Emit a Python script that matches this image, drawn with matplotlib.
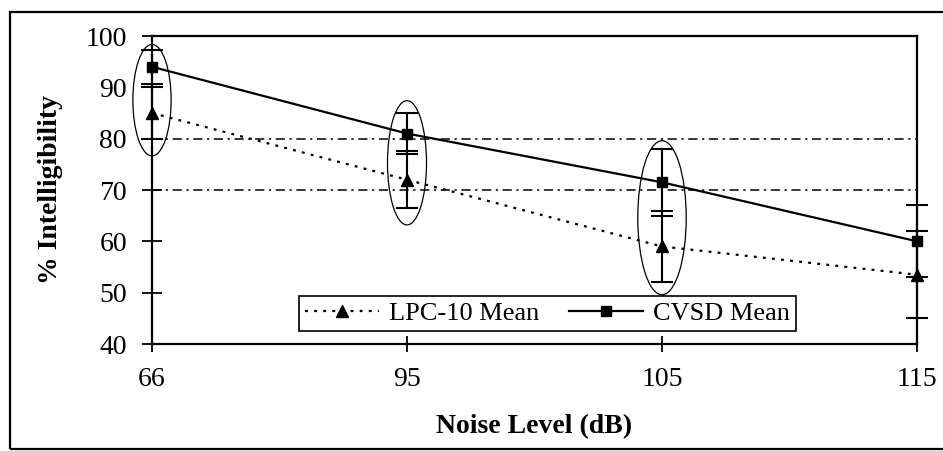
#!/bin/python

import numpy as np
import matplotlib.pyplot as plt
from matplotlib.patches import Ellipse, Rectangle

plt.rcParams['font.family'] = ['Liberation Serif', 'DejaVu Serif']

# Intelligibility scores per noise level (mean and +/- spread)
noise_levels = ['66', '95', '105', '115']
lpc_mean = [85, 72, 59, 53.5]
lpc_err = [5, 5.5, 7, 8.5]
cvsd_mean = [94, 81, 71.5, 60]
cvsd_err = [3.3, 4, 6.5, 7]

# Reference lines across the plot
reference_levels = [80, 70]

# Circled groups: (category index, centre value, width, height)
circled = [(0, 87.5, 0.15, 21.7), (1, 75.3, 0.153, 24.2), (2, 64.6, 0.19, 30)]


# Plot one mean series with its error bars
def plotSeries(ax, x, mean, err, marker, ms, ls, label):
	ax.errorbar(x, mean, yerr=err, fmt='none', ecolor='black', elinewidth=1.5,
		capsize=8, capthick=1.5, clip_on=False, zorder=3)
	line, = ax.plot(x, mean, color='black', linestyle=ls, linewidth=1.6,
		marker=marker, markersize=ms, clip_on=False, zorder=4, label=label)
	return line


fig = plt.figure(figsize=(9.43, 4.51), dpi=100)
ax = fig.add_axes([152/943, 1-344/451, 765/943, 308/451])

x = np.arange(len(noise_levels))

for level in reference_levels:
	ax.plot([x[0], x[-1]], [level, level], color='black', linewidth=1.1,
		linestyle=(0, (6, 3, 1.5, 3)), zorder=2)

plotSeries(ax, x, lpc_mean, lpc_err, '^', 8, (0, (1.3, 2.8)), 'LPC-10 Mean')
plotSeries(ax, x, cvsd_mean, cvsd_err, 's', 6.5, '-', 'CVSD Mean')

for idx, yc, w, h in circled:
	ax.add_patch(Ellipse((x[idx], yc), w, h, fill=False, edgecolor='black',
		linewidth=0.9, clip_on=False, zorder=5))

ax.set_xlim(x[0], x[-1])
ax.set_ylim(40, 100)
ax.set_yticks(range(40, 101, 10))
ax.set_xticks(x)
ax.set_xticklabels(noise_levels)

ax.tick_params(axis='y', direction='inout', length=14, width=1.3, labelsize=20, pad=11)
ax.tick_params(axis='x', direction='inout', length=11, width=1.3, labelsize=20, pad=11)
for side in ['left', 'right', 'top', 'bottom']:
	ax.spines[side].set_linewidth(1.6)

ax.set_xlabel('Noise Level (dB)', fontsize=20, fontweight='bold', labelpad=16)
ax.set_ylabel('% Intelligibility', fontsize=20, fontweight='bold', labelpad=16)

leg = ax.legend(loc='center', bbox_to_anchor=(0.517, 0.1), ncol=2, fontsize=19,
	frameon=True, fancybox=False, edgecolor='black', framealpha=1,
	handlelength=2.8, columnspacing=1.1, handletextpad=0.4, borderpad=0.22,
	borderaxespad=0)
leg.get_frame().set_linewidth(1.2)

# Border round the whole chart
fig.patches.append(Rectangle((10/943, 2/451), 1.0, 437/451, transform=fig.transFigure,
	fill=False, edgecolor='black', linewidth=1.6))

plt.savefig('out.png', dpi=100)
